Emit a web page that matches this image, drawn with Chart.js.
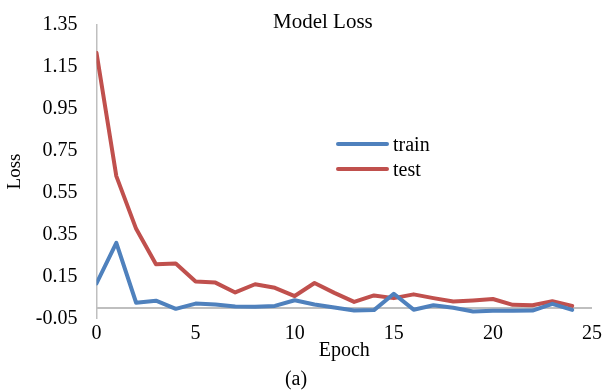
<!DOCTYPE html>
<html>
<head>
<meta charset="utf-8">
<title>Model Loss</title>
<script src="https://cdn.jsdelivr.net/npm/chart.js@4.4.1/dist/chart.umd.min.js"></script>
<style>
  body { margin: 0; background: #fff; }
  #wrap { position: relative; width: 605px; height: 392px; font-family: 'Liberation Serif', 'Times New Roman', serif; color: #000; }
  #titulo { position: absolute; left: 273px; top: 11px; font-size: 21px; line-height: 1; white-space: nowrap; }
  .fila { position: absolute; left: 336px; height: 24px; display: flex; align-items: center; font-size: 20px; line-height: 24px; }
  .fila .linea { width: 53px; height: 4px; border-radius: 2px; margin-right: 4px; }
</style>
</head>
<body>
<div id="wrap">
  <canvas id="grafico-loss" width="605" height="392"></canvas>
  <div id="titulo">Model Loss</div>
  <div id="leyenda"></div>
</div>
<script>
// valores
const epochs = [0, 1, 2, 3, 4, 5, 6, 7, 8, 9, 10, 11, 12, 13, 14, 15, 16, 17, 18, 19, 20, 21, 22, 23, 24];
const trainLoss = [0.117, 0.310, 0.025, 0.035, -0.004, 0.021, 0.017, 0.007, 0.006, 0.010, 0.037, 0.017, 0.002, -0.012, -0.010, 0.068, -0.008, 0.013, 0.001, -0.017, -0.013, -0.013, -0.012, 0.020, -0.009];
const testLoss = [1.215, 0.628, 0.377, 0.208, 0.212, 0.126, 0.121, 0.074, 0.113, 0.096, 0.057, 0.119, 0.072, 0.029, 0.060, 0.047, 0.065, 0.047, 0.031, 0.036, 0.043, 0.015, 0.013, 0.032, 0.010];
const seriesNames = ['train', 'test'];
const seriesColors = ['#4F81BD', '#C0504D'];
const yTicks = { min: -0.05, max: 1.35, step: 0.2 };
const xTicks = { min: 0, max: 25, step: 5 };

Chart.defaults.font.family = "'Liberation Serif', 'Times New Roman', serif";
Chart.defaults.color = '#000';

// linea gris en y = 0 (como el eje horizontal de Excel)
const lineaCero = {
    id: 'lineaCero',
    beforeDatasetsDraw(chart) {
        const { ctx, chartArea, scales } = chart;
        const y = scales.y.getPixelForValue(0);
        ctx.save();
        ctx.strokeStyle = '#BFBFBF';
        ctx.lineWidth = 2;
        ctx.beginPath();
        ctx.moveTo(chartArea.left, y);
        ctx.lineTo(chartArea.right, y);
        ctx.stroke();
        ctx.restore();
    }
};

const series = [trainLoss, testLoss];

const ctx = document.getElementById('grafico-loss').getContext('2d');
window.graficoLoss = new Chart(ctx, {
    type: 'line',
    data: {
        datasets: series.map((valores, i) => ({
            label: seriesNames[i],
            data: epochs.map((e, j) => ({ x: e, y: valores[j] })),
            borderColor: seriesColors[i],
            backgroundColor: seriesColors[i],
            borderWidth: 4,
            pointRadius: 0,
            tension: 0,
            borderJoinStyle: 'round',
            borderCapStyle: 'round'
        }))
    },
    options: {
        responsive: false,
        animation: false,
        layout: { padding: { top: 24.5, right: 13, left: 0, bottom: 0 } },
        plugins: {
            legend: { display: false },
            tooltip: { enabled: false },
            subtitle: {
                display: true,
                position: 'bottom',
                text: '(a)',
                color: '#000',
                font: { size: 20, lineHeight: 1.2 },
                padding: { top: 5, bottom: 0 }
            }
        },
        scales: {
            x: {
                type: 'linear',
                min: xTicks.min,
                max: xTicks.max,
                ticks: { stepSize: xTicks.step, padding: 3, font: { size: 20 } },
                grid: { display: false, drawTicks: false },
                border: { display: false },
                title: { display: true, text: 'Epoch', font: { size: 20, lineHeight: 1.2 }, padding: { top: 0, bottom: 0 } },
                afterFit: scale => { scale.height = 44.5; }
            },
            y: {
                min: yTicks.min,
                max: yTicks.max,
                ticks: {
                    stepSize: yTicks.step,
                    padding: 0,
                    font: { size: 20 },
                    callback: value => value.toFixed(2)
                },
                // las marcas no se dibujan, solo separan las etiquetas del eje
                grid: { display: false, drawTicks: true, tickLength: 19 },
                border: { display: true, color: '#BFBFBF', width: 1.5 },
                title: { display: true, text: 'Loss', font: { size: 19, lineHeight: 1.2 }, padding: { top: 4, bottom: 0 } },
                afterFit: scale => { scale.width = 96.5; }
            }
        }
    },
    plugins: [lineaCero]
});

// leyenda en html, dentro del area del grafico
const leyenda = document.getElementById('leyenda');
const topsLeyenda = [132, 157.3];
seriesNames.forEach((nombre, i) => {
    const fila = document.createElement('div');
    fila.className = 'fila';
    fila.style.top = topsLeyenda[i] + 'px';
    fila.innerHTML = `<span class="linea" style="background:${seriesColors[i]}"></span><span>${nombre}</span>`;
    leyenda.appendChild(fila);
});
</script>
</body>
</html>
